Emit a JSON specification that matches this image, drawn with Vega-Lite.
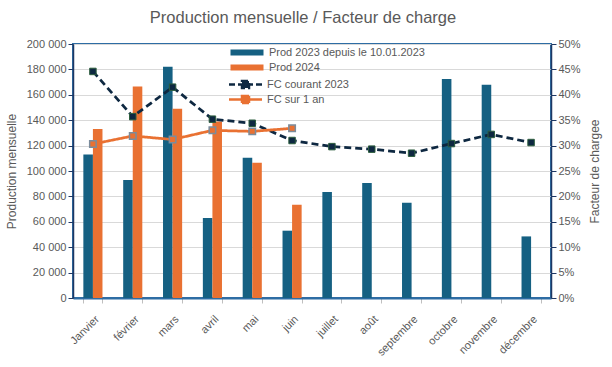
{
  "$schema": "https://vega.github.io/schema/vega-lite/v6.json",
  "width": 478,
  "height": 254,
  "autosize": {"type": "none"},
  "padding": {"left": 73, "top": 44, "right": 61, "bottom": 69},
  "background": "white",
  "title": {"text": "Production mensuelle / Facteur de charge", "fontSize": 16.5, "fontWeight": "normal", "color": "#595959", "offset": 12, "dx": -9},
  "config": {
    "font": "Liberation Sans",
    "locale": {"number": {"decimal": ",", "thousands": "\u00a0", "grouping": [3], "currency": ["", " €"]}},
    "view": {"stroke": "#2e6da4", "strokeWidth": 2},
    "axis": {"labelColor": "#595959", "labelFontSize": 11, "titleColor": "#595959", "titleFontWeight": "normal", "titleFontSize": 12, "domainColor": "#1f3864", "domainWidth": 1.5, "tickColor": "#1f3864", "gridColor": "#d9d9d9"}
  },
  "datasets": {
    "bars": [
      {"mois": "Janvier", "serie": "Prod 2023 depuis le 10.01.2023", "prod": 113000},
      {"mois": "février", "serie": "Prod 2023 depuis le 10.01.2023", "prod": 93000},
      {"mois": "mars", "serie": "Prod 2023 depuis le 10.01.2023", "prod": 182000},
      {"mois": "avril", "serie": "Prod 2023 depuis le 10.01.2023", "prod": 63000},
      {"mois": "mai", "serie": "Prod 2023 depuis le 10.01.2023", "prod": 110500},
      {"mois": "juin", "serie": "Prod 2023 depuis le 10.01.2023", "prod": 53000},
      {"mois": "juillet", "serie": "Prod 2023 depuis le 10.01.2023", "prod": 83500},
      {"mois": "août", "serie": "Prod 2023 depuis le 10.01.2023", "prod": 90500},
      {"mois": "septembre", "serie": "Prod 2023 depuis le 10.01.2023", "prod": 75000},
      {"mois": "octobre", "serie": "Prod 2023 depuis le 10.01.2023", "prod": 172500},
      {"mois": "novembre", "serie": "Prod 2023 depuis le 10.01.2023", "prod": 168000},
      {"mois": "décembre", "serie": "Prod 2023 depuis le 10.01.2023", "prod": 48500},
      {"mois": "Janvier", "serie": "Prod 2024", "prod": 133000},
      {"mois": "février", "serie": "Prod 2024", "prod": 166500},
      {"mois": "mars", "serie": "Prod 2024", "prod": 149000},
      {"mois": "avril", "serie": "Prod 2024", "prod": 139000},
      {"mois": "mai", "serie": "Prod 2024", "prod": 106500},
      {"mois": "juin", "serie": "Prod 2024", "prod": 73500}
    ],
    "fc": [
      {"mois": "Janvier", "serie": "FC courant 2023", "fc": 0.446},
      {"mois": "février", "serie": "FC courant 2023", "fc": 0.357},
      {"mois": "mars", "serie": "FC courant 2023", "fc": 0.415},
      {"mois": "avril", "serie": "FC courant 2023", "fc": 0.352},
      {"mois": "mai", "serie": "FC courant 2023", "fc": 0.344},
      {"mois": "juin", "serie": "FC courant 2023", "fc": 0.31},
      {"mois": "juillet", "serie": "FC courant 2023", "fc": 0.298},
      {"mois": "août", "serie": "FC courant 2023", "fc": 0.293},
      {"mois": "septembre", "serie": "FC courant 2023", "fc": 0.285},
      {"mois": "octobre", "serie": "FC courant 2023", "fc": 0.304},
      {"mois": "novembre", "serie": "FC courant 2023", "fc": 0.322},
      {"mois": "décembre", "serie": "FC courant 2023", "fc": 0.306},
      {"mois": "Janvier", "serie": "FC sur 1 an", "fc": 0.303},
      {"mois": "février", "serie": "FC sur 1 an", "fc": 0.319},
      {"mois": "mars", "serie": "FC sur 1 an", "fc": 0.312},
      {"mois": "avril", "serie": "FC sur 1 an", "fc": 0.33},
      {"mois": "mai", "serie": "FC sur 1 an", "fc": 0.328},
      {"mois": "juin", "serie": "FC sur 1 an", "fc": 0.334}
    ]
  },
  "encoding": {
    "x": {
      "field": "mois", "type": "nominal",
      "sort": ["Janvier", "février", "mars", "avril", "mai", "juin", "juillet", "août", "septembre", "octobre", "novembre", "décembre"],
      "scale": {"type": "band", "paddingInner": 0.52, "paddingOuter": 0.26},
      "axis": {"title": null, "labelAngle": -45, "tickBand": "extent", "labelPadding": 10, "grid": false, "tickColor": "#bfbfbf", "domainColor": "#2e6da4", "domainWidth": 2}
    }
  },
  "layer": [
    {
      "data": {"name": "bars"},
      "mark": {"type": "bar"},
      "encoding": {
        "xOffset": {"field": "serie", "type": "nominal", "scale": {"domain": ["Prod 2023 depuis le 10.01.2023", "Prod 2024"]}},
        "y": {"field": "prod", "type": "quantitative", "scale": {"domain": [0, 200000]},
          "axis": {"orient": "left", "title": "Production mensuelle", "values": [0, 20000, 40000, 60000, 80000, 100000, 120000, 140000, 160000, 180000, 200000], "format": ",d", "grid": true, "titlePadding": 8}},
        "color": {"field": "serie", "type": "nominal",
          "scale": {"domain": ["Prod 2023 depuis le 10.01.2023", "Prod 2024"], "range": ["#156082", "#E97132"]},
          "legend": {"orient": "none", "legendX": 168.5, "legendY": 3, "title": null, "symbolType": "M-3.3,-0.6H3.3V0.6H-3.3Z", "symbolSize": 100, "symbolStrokeWidth": 0, "labelOffset": 16.5, "labelFontSize": 11, "labelColor": "#595959", "rowPadding": 3, "padding": 0}}
      }
    },
    {
      "data": {"name": "fc"},
      "encoding": {
        "y": {"field": "fc", "type": "quantitative", "scale": {"domain": [0, 0.5]},
          "axis": {"orient": "right", "title": "Facteur de chargee", "titleAngle": -90, "titleBaseline": "top", "values": [0, 0.05, 0.1, 0.15, 0.2, 0.25, 0.3, 0.35, 0.4, 0.45, 0.5], "format": ".0%", "grid": false, "titlePadding": 9}}
      },
      "layer": [
        {
          "mark": {"type": "line", "strokeWidth": 2.75},
          "encoding": {
            "color": {"field": "serie", "type": "nominal",
              "scale": {"domain": ["FC courant 2023", "FC sur 1 an"], "range": ["#0e2841", "#E97132"]},
              "legend": {"orient": "none", "legendX": 166, "legendY": 34, "title": null, "symbolType": "M-3.3,0H3.3M-0.7,-0.7H0.7V0.7H-0.7Z", "symbolSize": 100, "symbolStrokeWidth": 2.5, "labelOffset": 15, "labelFontSize": 11, "labelColor": "#595959", "rowPadding": -2, "padding": 0,
                "encode": {"symbols": {"update": {
                  "fill": {"signal": "datum.value === 'FC courant 2023' ? '#0e2841' : '#E97132'"},
                  "fillOpacity": {"value": 1},
                  "strokeDash": {"signal": "datum.value === 'FC courant 2023' ? [6, 3] : [1, 0]"}}}}}},
            "strokeDash": {"field": "serie", "type": "nominal",
              "scale": {"domain": ["FC courant 2023", "FC sur 1 an"], "range": [[7, 4], [1, 0]]},
              "legend": null}
          }
        },
        {
          "transform": [{"filter": "datum.serie === 'FC courant 2023'"}],
          "mark": {"type": "point", "shape": "square", "filled": true, "size": 42, "fill": "#0e2841", "stroke": "#2d5e3e", "strokeWidth": 1, "opacity": 1},
          "encoding": {}
        },
        {
          "transform": [{"filter": "datum.serie === 'FC sur 1 an'"}],
          "mark": {"type": "point", "shape": "square", "filled": true, "size": 42, "fill": "#E97132", "stroke": "#7b8c9c", "strokeWidth": 1.5, "opacity": 1},
          "encoding": {}
        }
      ]
    }
  ],
  "resolve": {"scale": {"y": "independent", "color": "independent"}}
}
